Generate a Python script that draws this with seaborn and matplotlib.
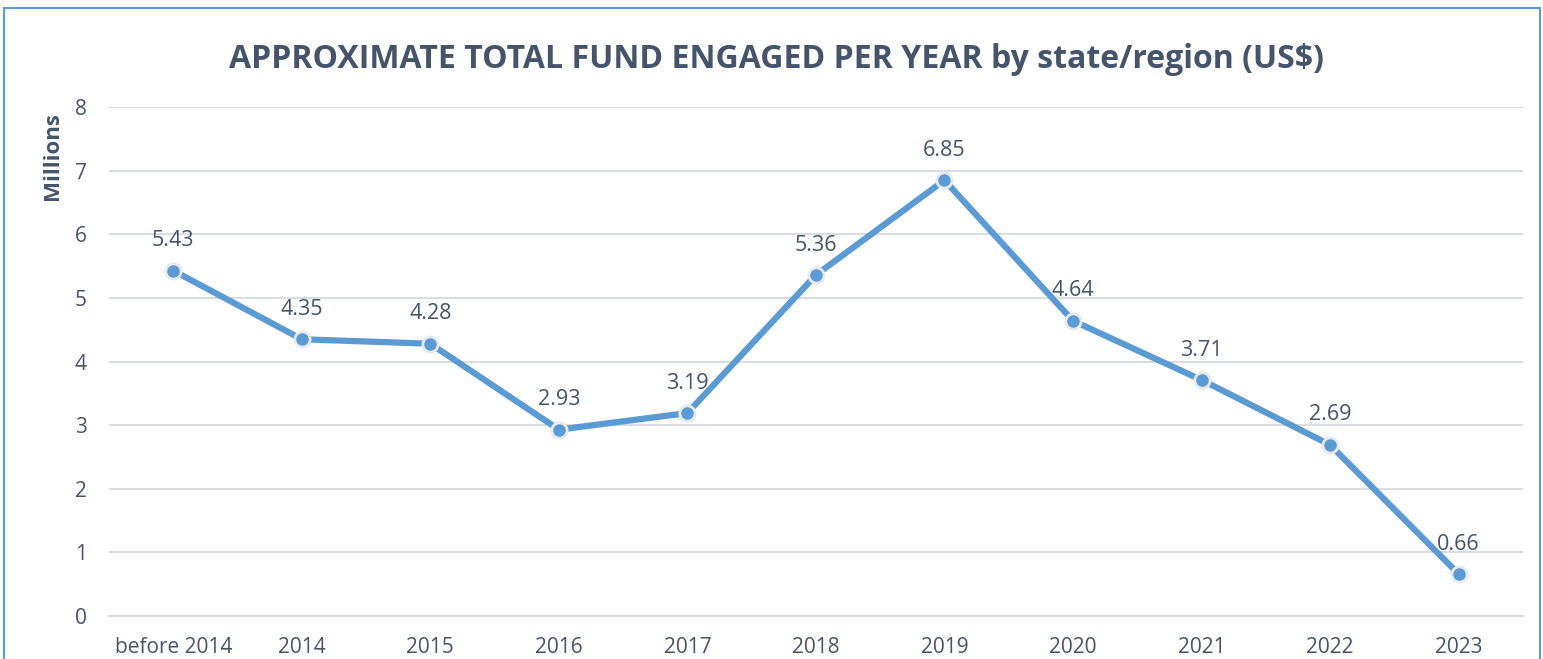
import numpy as np
import pandas as pd
import seaborn as sns
from matplotlib import pyplot as plt
from matplotlib.lines import Line2D

years = ["before 2014", "2014", "2015", "2016", "2017", "2018",
         "2019", "2020", "2021", "2022", "2023"]
funds = [5.43, 4.35, 4.28, 2.93, 3.19, 5.36, 6.85, 4.64, 3.71, 2.69, 0.66]
y_ticks = [0, 1, 2, 3, 4, 5, 6, 7, 8]

line_color = "#5B9BD5"
text_color = "#44546A"
grid_color = "#D9DDE3"

sns.set_style("white")
plt.rcParams['font.family'] = ['Open Sans', 'DejaVu Sans']

df = pd.DataFrame({"year": years, "fund": funds})

fig = plt.figure(figsize=(15.43, 6.59), dpi=100)
ax = fig.add_axes([0.0706, 0.0652, 0.9164, 0.7724])

sns.lineplot(data=df, x="year", y="fund", ax=ax, color=line_color,
             linewidth=4.5, marker="o", markersize=11,
             markeredgecolor="#E7E9EC", markeredgewidth=2, zorder=3)

for i, v in enumerate(funds):
    ax.annotate(f"{v:.2f}", (i, v), xytext=(0, 14), textcoords="offset points",
                ha="center", va="bottom", fontsize=15.5, color=text_color)

ax.set_xlim(-0.5, len(years) - 0.5)
ax.set_ylim(0, 8)
ax.set_yticks(y_ticks)
ax.set_xticks(range(len(years)))
ax.set_xticklabels(years)
ax.set_xticks(np.arange(-0.5, len(years), 1), minor=True)
ax.tick_params(axis="x", which="major", length=0, labelsize=15,
               labelcolor=text_color, pad=15)
ax.tick_params(axis="x", which="minor", length=8, width=1.5, color=grid_color)
ax.tick_params(axis="y", length=0, labelsize=15, labelcolor=text_color, pad=16)

ax.yaxis.grid(True, color=grid_color, linewidth=1.5)
ax.set_axisbelow(True)
for s in ["top", "right", "left"]:
    ax.spines[s].set_visible(False)
ax.spines["bottom"].set_color(grid_color)
ax.spines["bottom"].set_linewidth(1.5)

ax.set_xlabel("")
ax.set_ylabel("")
fig.text(0.0343, 0.763, "Millions", rotation=90, ha="center", va="center",
         fontsize=16, fontweight="bold", color=text_color)

fig.text(0.5035, 0.91, "APPROXIMATE TOTAL FUND ENGAGED PER YEAR by state/region (US$)",
         ha="center", va="center", fontsize=23, fontweight="bold", color=text_color)

# outer chart border (bottom edge is cropped off in the reference)
border = dict(color="#5B9BD5", linewidth=1.5, transform=fig.transFigure)
fig.add_artist(Line2D([0.0029, 0.0029], [0, 0.988], **border))
fig.add_artist(Line2D([0.0029, 0.998], [0.988, 0.988], **border))
fig.add_artist(Line2D([0.998, 0.998], [0, 0.988], **border))

fig.savefig("out.png", dpi=100)
